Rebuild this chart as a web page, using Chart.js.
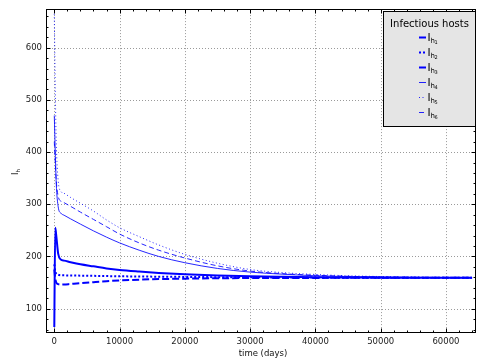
<!DOCTYPE html>
<html><head><meta charset="utf-8">
<script src="https://cdn.jsdelivr.net/npm/chart.js@4.4.0/dist/chart.umd.min.js"></script>
<style>html,body{margin:0;padding:0;background:#fff}#wrap{width:477px;height:358px}</style>
</head><body><div id="wrap"><canvas id="c" width="477" height="358"></canvas></div>
<script>
const timeDays = [0, 150, 300, 600, 1000, 1500, 2500, 4000, 6000, 8000, 10000, 13000, 16000, 20000, 25000, 30000, 35000, 40000, 45000, 50000, 55000, 60000, 64000];
const hostI1 = [65, 255, 240, 205, 194, 192, 189, 185, 181, 177, 174, 171, 168.5, 166, 163.5, 162, 161, 160.2, 159.7, 159.4, 159.2, 159.1, 159];
const hostI2 = [185, 172, 167, 165, 164, 163.8, 163.5, 163.2, 162.8, 162.4, 162, 161.6, 161.2, 160.8, 160.3, 160, 159.7, 159.5, 159.3, 159.2, 159.1, 159, 159];
const hostI3 = [175, 158, 150, 147, 146, 146.3, 147.3, 148.8, 150.7, 152.5, 154, 155.5, 156.6, 157.5, 158.2, 158.6, 158.8, 158.9, 159, 159, 159, 159, 159];
const hostI4 = [470, 400, 340, 295, 283, 279, 272, 262, 249, 237, 226, 212, 200, 188, 177, 170, 166, 163, 161.5, 160.5, 159.8, 159.3, 159.1];
const hostI5 = [665, 520, 420, 345, 325, 321, 313, 302, 287, 270, 255, 238, 222, 204, 187, 175, 169, 165.5, 163, 161.5, 160.5, 159.8, 159.5];
const hostI6 = [420, 380, 345, 315, 306, 303, 296, 285, 271, 257, 243, 226, 212, 197, 182, 172, 167, 164, 162, 160.8, 160, 159.5, 159.2];
const seriesIndex = ['1', '2', '3', '4', '5', '6'];
const xTickValues = [0, 10000, 20000, 30000, 40000, 50000, 60000];
const yTickValues = [100, 200, 300, 400, 500, 600];
const legendTitle = 'Infectious hosts';
const xAxisTitle = 'time (days)';

const allSeries = [hostI1, hostI2, hostI3, hostI4, hostI5, hostI6];
const styles = [
  {w: 2, dash: [], color: 'rgba(0,0,255,1)'},
  {w: 2, dash: [2, 2], color: 'rgba(0,0,255,1)'},
  {w: 2, dash: [7, 3], color: 'rgba(0,0,255,1)'},
  {w: 1, dash: [], color: 'rgba(0,0,255,0.85)'},
  {w: 1, dash: [1, 2.5], color: 'rgba(0,0,255,0.85)'},
  {w: 1, dash: [5, 3], color: 'rgba(0,0,255,0.85)'}
];
const datasets = allSeries.map((s, i) => ({
  label: 'I_h' + seriesIndex[i],
  data: s.map((v, k) => ({x: timeDays[k], y: v})),
  borderColor: styles[i].color,
  borderWidth: styles[i].w,
  borderDash: styles[i].dash,
  pointRadius: 0,
  fill: false,
  cubicInterpolationMode: 'monotone'
}));

const FONT = '"DejaVu Sans", sans-serif';

const decor = {
  id: 'decor',
  beforeDatasetsDraw(chart) {
    const {ctx, chartArea: a, scales: {x, y}} = chart;
    ctx.save();
    ctx.strokeStyle = '#9a9a9a';
    ctx.lineWidth = 1;
    ctx.setLineDash([1, 2]);
    xTickValues.forEach(v => {
      const px = Math.round(x.getPixelForValue(v)) + 0.5;
      ctx.beginPath(); ctx.moveTo(px, a.top); ctx.lineTo(px, a.bottom); ctx.stroke();
    });
    yTickValues.forEach(v => {
      const py = Math.round(y.getPixelForValue(v)) + 0.5;
      ctx.beginPath(); ctx.moveTo(a.left, py); ctx.lineTo(a.right, py); ctx.stroke();
    });
    ctx.restore();
  },
  afterDatasetsDraw(chart) {
    const {ctx, chartArea: a, scales: {x, y}} = chart;
    ctx.save();
    ctx.strokeStyle = '#000';
    ctx.lineWidth = 1;
    ctx.setLineDash([]);
    const L = Math.round(a.left) + 0.5, R = Math.round(a.right) - 0.5;
    const T = Math.round(a.top) + 0.5, B = Math.round(a.bottom) - 0.5;
    ctx.strokeRect(L, T, R - L, B - T);
    ctx.beginPath();
    for (let v = 0; v <= 64000; v += 2000) {
      const major = v % 10000 === 0;
      const len = major ? 4 : 2;
      const px = Math.round(x.getPixelForValue(v)) + 0.5;
      ctx.moveTo(px, B); ctx.lineTo(px, B - len);
      ctx.moveTo(px, T); ctx.lineTo(px, T + len);
    }
    for (let v = 60; v <= 660; v += 20) {
      const major = v % 100 === 0;
      const len = major ? 4 : 2;
      const py = Math.round(y.getPixelForValue(v)) + 0.5;
      ctx.moveTo(L, py); ctx.lineTo(L + len, py);
      ctx.moveTo(R, py); ctx.lineTo(R - len, py);
    }
    ctx.stroke();
    ctx.restore();
  },
  afterDraw(chart) {
    const {ctx, chartArea: a} = chart;
    ctx.save();
    // axis titles
    ctx.fillStyle = '#111';
    ctx.font = '8.5px ' + FONT;
    ctx.textAlign = 'center';
    ctx.textBaseline = 'alphabetic';
    ctx.fillText(xAxisTitle, (a.left + a.right) / 2 + 2, 356);
    ctx.save();
    ctx.translate(18, 172);
    ctx.rotate(-Math.PI / 2);
    ctx.textAlign = 'left';
    ctx.font = '8.5px ' + FONT;
    ctx.fillText('I', -3, 0);
    ctx.font = '5.5px ' + FONT;
    ctx.fillText('h', -0.5, 2);
    ctx.restore();
    // legend
    const lx = 383.5, ly = 11.5, lw = 92, lh = 115;
    ctx.fillStyle = '#e5e5e5';
    ctx.fillRect(lx, ly, lw, lh);
    ctx.strokeStyle = '#000';
    ctx.lineWidth = 1;
    ctx.strokeRect(lx, ly, lw, lh);
    ctx.fillStyle = '#000';
    ctx.font = '10px ' + FONT;
    ctx.textAlign = 'center';
    ctx.fillText(legendTitle, lx + lw / 2, 27);
    ctx.textAlign = 'left';
    seriesIndex.forEach((d, i) => {
      const cy = 37.5 + 15 * i;
      const st = styles[i];
      ctx.strokeStyle = st.color;
      ctx.lineWidth = st.w;
      ctx.setLineDash(st.dash);
      ctx.beginPath(); ctx.moveTo(419, cy); ctx.lineTo(426, cy); ctx.stroke();
      ctx.setLineDash([]);
      ctx.fillStyle = '#000';
      ctx.font = '10.5px ' + FONT;
      ctx.fillText('I', 427.5, cy + 3.8);
      ctx.font = '7px ' + FONT;
      ctx.fillText('h', 430.5, cy + 5);
      ctx.font = '5px ' + FONT;
      ctx.fillText(d, 434.5, cy + 6.8);
    });
    ctx.restore();
  }
};

new Chart(document.getElementById('c'), {
  type: 'line',
  data: {datasets},
  options: {
    responsive: false,
    animation: false,
    devicePixelRatio: 1,
    layout: {padding: {top: 8, right: 1, left: 0, bottom: 0}},
    plugins: {legend: {display: false}, tooltip: {enabled: false}},
    scales: {
      x: {
        type: 'linear', min: -1270, max: 64600,
        afterBuildTicks: s => { s.ticks = xTickValues.map(v => ({value: v})); },
        afterFit: s => { s.height = 25; },
        grid: {display: false, drawTicks: false},
        border: {display: false},
        ticks: {font: {family: FONT, size: 8.5}, color: '#222', padding: 4, maxRotation: 0, autoSkip: false, callback: v => String(v)}
      },
      y: {
        type: 'linear', min: 53.3, max: 674,
        afterBuildTicks: s => { s.ticks = yTickValues.map(v => ({value: v})); },
        afterFit: s => { s.width = 46; },
        grid: {display: false, drawTicks: false},
        border: {display: false},
        ticks: {font: {family: FONT, size: 8.5}, color: '#222', padding: 4, callback: v => String(v)}
      }
    }
  },
  plugins: [decor]
});
</script></body></html>
